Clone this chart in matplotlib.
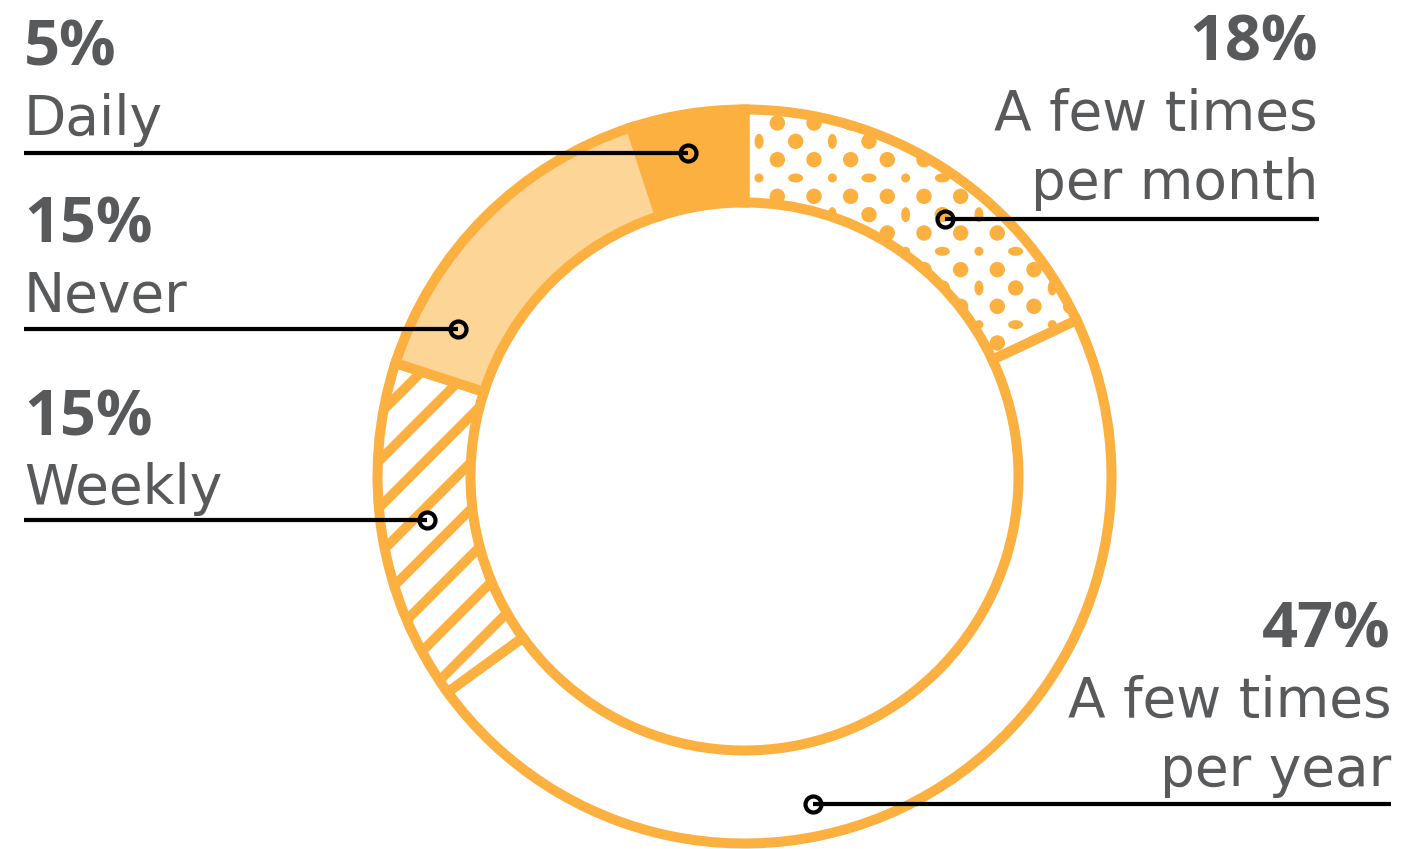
import matplotlib
matplotlib.use('Agg')
import matplotlib.pyplot as plt
from matplotlib.patches import Circle, Ellipse
from matplotlib.collections import PatchCollection

# ---- data ----
categories = ["A few times\nper month", "A few times\nper year", "Weekly", "Never", "Daily"]
values = [18, 47, 15, 15, 5]
pct_labels = [f"{v}%" for v in values]

# ---- layout / style ----
W, H = 1404, 849
DPI = 140
def pt(px):
    return px * 72.0 / DPI

ORANGE = '#FBB040'
LIGHT = '#FDD597'
GRAY = '#58595B'
PCT_FONT = 'Open Sans'
LAB_FONT = 'DejaVu Sans'

plt.rcParams['hatch.linewidth'] = 5.0

fig = plt.figure(figsize=(W / DPI, H / DPI), dpi=DPI)
ax = fig.add_axes([0, 0, 1, 1])

cx, cy = 744.5, H - 476.5
R, RW = 367, 93
faces = ['white', 'white', 'white', LIGHT, ORANGE]
hatches = [None, None, '/', None, None]

wedges, _ = ax.pie(values, colors=faces, startangle=90, counterclock=False,
                   radius=R, center=(cx, cy),
                   wedgeprops=dict(width=RW, edgecolor=ORANGE, linewidth=pt(10)))
for w, h in zip(wedges, hatches):
    if h:
        w.set_hatch(h)

# dotted texture for the first segment (clipped to its wedge)
x0, y0, step = 759, 123, 18.33
dots = []
for r in range(-4, 17):
    for c in range(-3, 24):
        x = x0 + c * step
        y = H - (y0 + r * step)
        if r % 2 == 0:
            if c % 2 == 1:
                dots.append(Circle((x, y), 7.7))
        else:
            if c % 2 == 0:
                a = (r // 2) % 2
                b = (c // 2) % 2
                if a == 0 and b == 1:
                    dots.append(Circle((x, y), 7.7))
                elif a == 0 and b == 0:
                    dots.append(Ellipse((x, y), 9, 15))
                elif a == 1 and b == 1:
                    dots.append(Ellipse((x, y), 15, 9))
                else:
                    dots.append(Circle((x, y), 4.5))
pc = PatchCollection(dots, facecolor=ORANGE, edgecolor='none', zorder=1.5)
ax.add_collection(pc)
pc.set_clip_path(wedges[0])

# leader lines with open circle markers
marker_px = [(945, 219), (813, 804), (427, 520), (458, 329), (688, 153)]
line_end_x = [1319, 1391, 24, 24, 24]
for (mx, my), ex in zip(marker_px, line_end_x):
    ax.plot([ex, mx], [H - my, H - my], color='black', lw=pt(4.2),
            solid_capstyle='butt', zorder=5)
    ax.plot([mx], [H - my], marker='o', ms=pt(16), mew=pt(4.2),
            mfc='none', mec='black', zorder=6)

# labels
text_x = [1318, 1391, 24, 24, 24]
text_ha = ['right', 'right', 'left', 'left', 'left']
pct_base = [60, 647, 435, 242, 65]
line_gap = 69.5
for cat, pl, tx, ha, pb in zip(categories, pct_labels, text_x, text_ha, pct_base):
    ax.text(tx, H - pb, pl, ha=ha, va='baseline', fontsize=pt(63),
            fontweight='bold', color=GRAY, family=PCT_FONT)
    for k, ln in enumerate(cat.split('\n')):
        ax.text(tx, H - (pb + line_gap * (k + 1)), ln, ha=ha, va='baseline',
                fontsize=pt(55), color=GRAY, family=LAB_FONT)

ax.set_xlim(0, W)
ax.set_ylim(0, H)
ax.set_aspect('equal')
ax.axis('off')
fig.savefig('out.png', dpi=DPI)
